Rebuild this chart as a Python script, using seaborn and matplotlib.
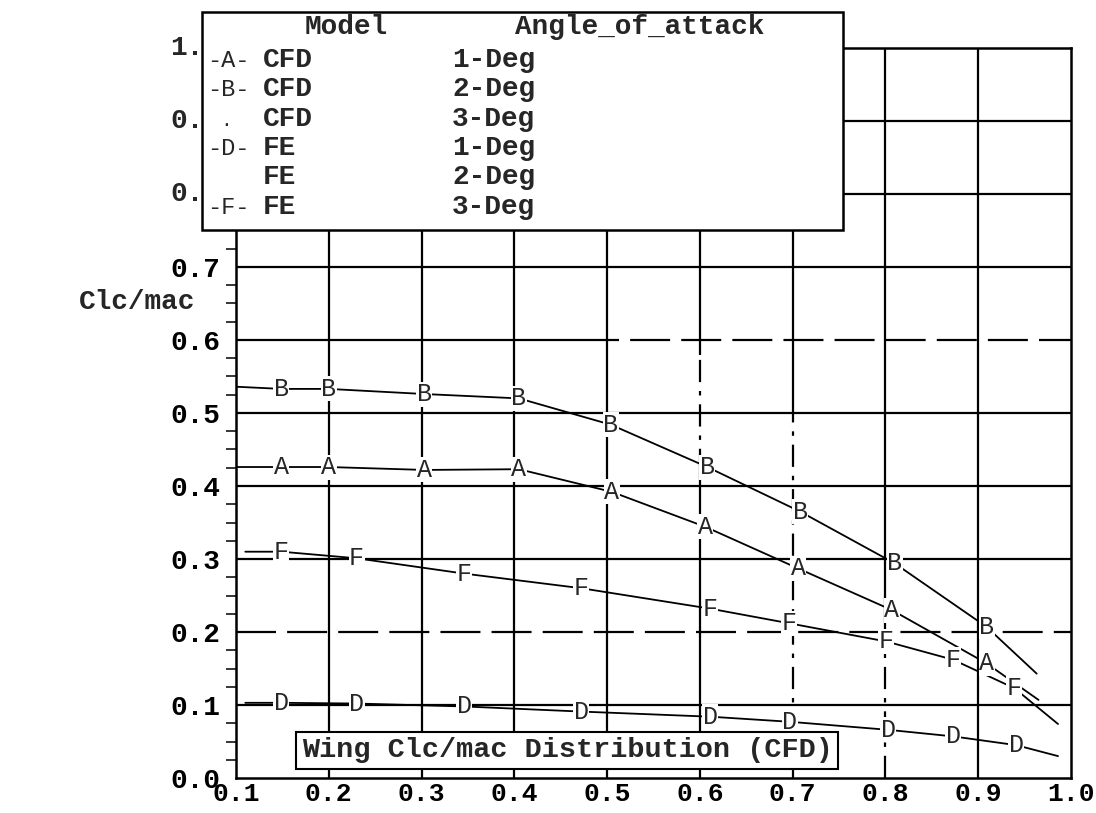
import numpy as np
import pandas as pd
import seaborn as sns
import matplotlib
matplotlib.use("Agg")
import matplotlib.pyplot as plt
from matplotlib.patches import Rectangle
from matplotlib.ticker import MultipleLocator, FuncFormatter

# span station and Clc/mac
# first and last point of every curve are plain line ends, the rest carry the letter
a_x = [0.10, 0.149, 0.200, 0.303, 0.405, 0.505, 0.606, 0.706, 0.807, 0.909, 0.965]
a_y = [0.426, 0.426, 0.426, 0.422, 0.423, 0.392, 0.344, 0.287, 0.230, 0.157, 0.107]

b_x = [0.10, 0.149, 0.200, 0.303, 0.405, 0.504, 0.608, 0.708, 0.810, 0.909, 0.963]
b_y = [0.536, 0.533, 0.533, 0.526, 0.520, 0.484, 0.426, 0.365, 0.294, 0.207, 0.143]

d_x = [0.11, 0.149, 0.230, 0.346, 0.472, 0.611, 0.697, 0.803, 0.873, 0.941, 0.986]
d_y = [0.103, 0.103, 0.102, 0.098, 0.091, 0.084, 0.077, 0.066, 0.057, 0.045, 0.030]

f_x = [0.11, 0.149, 0.230, 0.346, 0.472, 0.611, 0.696, 0.801, 0.873, 0.939, 0.986]
f_y = [0.310, 0.310, 0.301, 0.280, 0.260, 0.232, 0.212, 0.187, 0.162, 0.123, 0.074]

series = {"A": (a_x, a_y), "B": (b_x, b_y), "D": (d_x, d_y), "F": (f_x, f_y)}

leg_sym = ["-A-", "-B-", ".", "-D-", "", "-F-"]
leg_model = ["CFD", "CFD", "CFD", "FE", "FE", "FE"]
leg_angle = ["1-Deg", "2-Deg", "3-Deg", "1-Deg", "2-Deg", "3-Deg"]

x_ticks = np.arange(0.1, 1.01, 0.1)
y_ticks = np.arange(0.0, 1.01, 0.1)
# upper y labels are half hidden by the legend box, only "1." / "0." shows
hidden_from = 0.75

W, H = 1096, 813
sns.set_style("white")
plt.rcParams["font.family"] = ["Liberation Mono", "DejaVu Sans Mono"]
plt.rcParams["axes.linewidth"] = 1.8

fig = plt.figure(figsize=(W / 100, H / 100), dpi=100)
ax = fig.add_axes([236 / W, 1 - 778 / H, (1071 - 236) / W, (778 - 48) / H])


def fx(px):
    return px / W


def fy(py):
    return 1 - py / H


df = pd.concat([pd.DataFrame({"x": xs, "y": ys, "curve": k}) for k, (xs, ys) in series.items()])
sns.lineplot(data=df, x="x", y="y", hue="curve", palette=["black"] * 4, sort=False,
             legend=False, linewidth=1.3, ax=ax, zorder=3)

for k, (xs, ys) in series.items():
    for x, y in zip(xs[1:-1], ys[1:-1]):
        ax.text(x, y, k, fontsize=18, ha="center", va="center", zorder=4,
                bbox=dict(boxstyle="square,pad=0.02", fc="white", ec="none"))

# grid, with the broken / dashed runs of the photocopy
hdash = {0.2: 0.1, 0.6: 0.47}
vdash = {0.6: (0.42, 0.58), 0.7: (0.0, 0.5), 0.8: (0.0, 0.21)}
for y in y_ticks[1:-1]:
    y = round(y, 1)
    if y in hdash:
        start = hdash[y]
        if start > 0.1:
            ax.hlines(y, 0.1, start, color="black", lw=1.6, zorder=1)
        ax.hlines(y, start, 1.0, color="black", lw=1.6, linestyles=(0, (18, 5)), zorder=1)
    else:
        ax.hlines(y, 0.1, 1.0, color="black", lw=1.6, zorder=1)
for x in x_ticks[1:-1]:
    x = round(x, 1)
    if x in vdash:
        lo, hi = vdash[x]
        if lo > 0:
            ax.vlines(x, 0, lo, color="black", lw=1.6, zorder=1)
        ax.vlines(x, lo, hi, color="black", lw=1.6, linestyles=(0, (10, 4, 2, 4)), zorder=1)
        ax.vlines(x, hi, 1.0, color="black", lw=1.6, zorder=1)
    else:
        ax.vlines(x, 0, 1.0, color="black", lw=1.6, zorder=1)

ax.set_xlim(0.1, 1.0)
ax.set_ylim(0.0, 1.0)
ax.set_xticks(x_ticks)
ax.set_yticks(y_ticks)
ax.xaxis.set_major_formatter(FuncFormatter(lambda v, p: "%.1f" % v))
ax.yaxis.set_major_formatter(FuncFormatter(lambda v, p: "" if v > hidden_from else "%.1f" % v))
ax.yaxis.set_minor_locator(MultipleLocator(0.025))
ax.tick_params(axis="y", which="major", direction="out", length=9, width=1.5,
               labelsize=20, pad=2, colors="black")
ax.tick_params(axis="x", which="major", direction="out", length=6, width=1.5,
               labelsize=19, pad=-3, colors="black")
ax.tick_params(axis="y", which="minor", direction="out", length=7, width=1.3, left=True)
for lab in ax.get_xticklabels() + ax.get_yticklabels():
    lab.set_fontweight("bold")
for s in ax.spines.values():
    s.set_color("black")
ax.set_xlabel("")
ax.set_ylabel("")

# the visible stubs of the covered labels (last digit sits under the legend)
for v in y_ticks[y_ticks > hidden_from]:
    ax.text((170 - 236) / (1071 - 236), v, ("%.1f" % v)[:-1], fontsize=20, fontweight="bold",
            ha="left", va="center", transform=ax.get_yaxis_transform(), clip_on=False)

fig.text(fx(195), fy(302), "Clc/mac", fontsize=20, fontweight="bold", ha="right", va="center")

ax.text(0.171, 0.038, "Wing Clc/mac Distribution (CFD)", fontsize=20.5, fontweight="bold",
        ha="left", va="center", zorder=6,
        bbox=dict(boxstyle="square,pad=0.2", fc="white", ec="black", lw=1.5))

# legend box, drawn at figure level so it covers the upper tick labels
fig.patches.append(Rectangle((fx(202), fy(230)), fx(843) - fx(202), fy(12) - fy(230),
                             transform=fig.transFigure, fc="white", ec="black", lw=1.8, zorder=10))
fig.text(fx(305), fy(34), "Model", fontsize=20, fontweight="bold", va="baseline", zorder=11)
fig.text(fx(515), fy(34), "Angle_of_attack", fontsize=20, fontweight="bold", va="baseline", zorder=11)
for i, (s, m, a) in enumerate(zip(leg_sym, leg_model, leg_angle)):
    yy = fy(67 + i * 29.3)
    if s == ".":
        fig.text(fx(226), yy, s, fontsize=14, ha="center", va="baseline", zorder=11)
    else:
        fig.text(fx(207), yy, s, fontsize=17, va="baseline", zorder=11)
    fig.text(fx(263), yy, m, fontsize=20, fontweight="bold", va="baseline", zorder=11)
    fig.text(fx(452), yy, a, fontsize=20, fontweight="bold", va="baseline", zorder=11)

fig.savefig("out.png", dpi=100)
